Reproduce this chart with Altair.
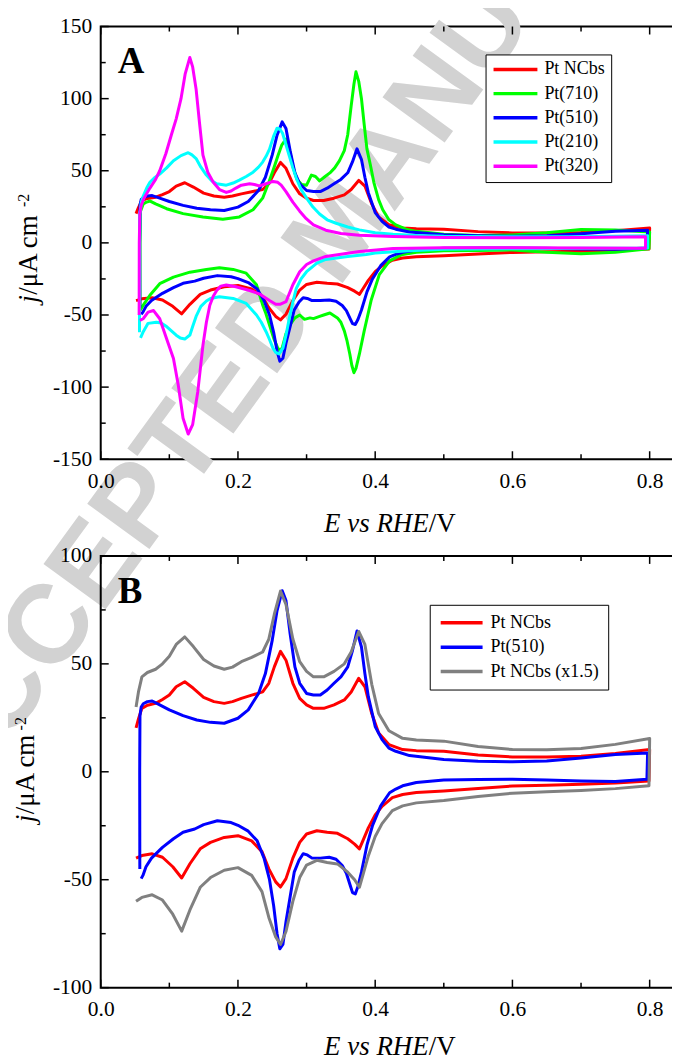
import altair as alt
import pandas as pd

# ---------------- data: E (V vs RHE), j (uA cm^-2) ----------------
# Pt NCbs (red) - anodic (up) and cathodic (down) branches
NCBS_E_UP = [0.0515, 0.055, 0.060, 0.068, 0.080, 0.090, 0.100, 0.110, 0.1225, 0.135, 0.150, 0.165, 0.180,
             0.192, 0.205, 0.220, 0.236, 0.245, 0.253, 0.262, 0.270, 0.280, 0.290, 0.300, 0.310, 0.325,
             0.340, 0.355, 0.365, 0.376, 0.385, 0.395, 0.405, 0.420, 0.440, 0.460, 0.500, 0.550, 0.600,
             0.650, 0.700, 0.750, 0.800]
NCBS_J_UP = [20.3, 24.5, 29.4, 30.8, 31.7, 33.5, 35.6, 39.4, 41.7, 38.7, 34.5, 32.5, 31.7, 32.5, 34.0,
             35.5, 37.0, 41.0, 48.6, 55.8, 51.7, 41.0, 34.0, 31.0, 29.4, 29.4, 31.0, 33.3, 37.0, 43.3,
             39.4, 27.0, 18.0, 12.6, 10.3, 9.8, 9.5, 7.8, 6.9, 6.8, 7.2, 8.5, 10.3]
NCBS_E_DN = [0.799, 0.750, 0.700, 0.650, 0.600, 0.550, 0.500, 0.460, 0.440, 0.425, 0.410, 0.400, 0.390,
             0.382, 0.377, 0.370, 0.360, 0.345, 0.330, 0.315, 0.300, 0.290, 0.280, 0.270, 0.262, 0.255,
             0.245, 0.235, 0.220, 0.200, 0.180, 0.160, 0.145, 0.130, 0.118, 0.105, 0.090, 0.075, 0.060,
             0.0515]
NCBS_J_DN = [-4.3, -5.2, -5.8, -6.2, -6.6, -7.7, -8.9, -9.6, -10.5, -12.0, -16.0, -20.0, -26.0, -32.0,
             -35.7, -33.5, -31.0, -28.5, -28.0, -27.3, -28.8, -32.7, -40.0, -49.5, -53.4, -51.0, -45.0,
             -37.0, -32.0, -29.6, -30.4, -32.7, -35.7, -42.6, -49.2, -44.0, -39.6, -38.0, -38.8, -40.0]

# Pt NCbs (x1.5) (grey)
X15_J_UP = [30.0, 37.0, 44.0, 46.0, 47.5, 50.0, 53.5, 59.0, 62.5, 58.0, 52.0, 49.0, 47.5, 48.5, 51.0,
            53.0, 55.5, 61.5, 73.0, 83.7, 77.5, 61.5, 51.0, 46.5, 44.0, 44.0, 46.5, 50.0, 55.5, 65.0,
            59.0, 40.5, 27.0, 19.0, 15.5, 14.7, 14.2, 11.7, 10.3, 10.2, 10.8, 12.7, 15.4]
X15_J_DN = [-6.5, -7.8, -8.7, -9.3, -9.9, -11.5, -13.3, -14.4, -15.8, -18.0, -24.0, -30.0, -39.0, -48.0,
            -53.5, -50.0, -46.5, -42.7, -42.0, -41.0, -43.2, -49.0, -60.0, -74.0, -80.0, -76.5, -67.5,
            -55.5, -48.0, -44.4, -45.6, -49.0, -53.5, -64.0, -73.8, -66.0, -59.4, -57.0, -58.2, -60.0]

# Pt(510) (blue)
P510_E_UP = [0.0570, 0.0568, 0.0572, 0.0590, 0.062, 0.068, 0.075, 0.086, 0.100, 0.120, 0.140, 0.160,
             0.180, 0.200, 0.215, 0.230, 0.240, 0.250, 0.257, 0.2645, 0.270, 0.276, 0.283, 0.290, 0.300,
             0.310, 0.320, 0.330, 0.340, 0.350, 0.360, 0.367, 0.3735, 0.380, 0.385, 0.390, 0.400, 0.410,
             0.420, 0.430, 0.450, 0.500, 0.550, 0.600, 0.650, 0.700, 0.750, 0.797]
P510_J_UP = [-45, 0, 26, 30, 31.5, 32.5, 32.8, 31, 28.7, 26, 24, 22.9, 22.5, 24.8, 28.7, 36.3, 45.5, 61,
             74.7, 83.9, 79.3, 64, 48.6, 41, 36.3, 35.6, 35.6, 37.9, 41, 44, 48.6, 56.3, 65.2, 57.8,
             45.5, 34.8, 21, 14.9, 11, 9.5, 7.5, 5.7, 4.9, 4.6, 5.0, 6.4, 8.0, 8.7]
P510_E_DN = [0.796, 0.750, 0.700, 0.650, 0.600, 0.550, 0.500, 0.460, 0.440, 0.430, 0.421, 0.408, 0.396,
             0.388, 0.380, 0.375, 0.371, 0.367, 0.364, 0.358, 0.352, 0.343, 0.333, 0.320, 0.308, 0.301,
             0.295, 0.289, 0.282, 0.276, 0.270, 0.2655, 0.261, 0.257, 0.252, 0.246, 0.238, 0.228, 0.215,
             0.200, 0.190, 0.170, 0.150, 0.137, 0.120, 0.106, 0.090, 0.074, 0.066, 0.0615, 0.0590]
P510_J_DN = [-3.5, -4.5, -4.3, -3.8, -3.5, -3.6, -3.8, -5.0, -6.5, -8.0, -9.7, -15.8, -25.0, -34.0, -46.5,
             -53.0, -56.6, -56.0, -53.0, -47.0, -43.4, -40.5, -39.6, -40.0, -40.0, -38.5, -38.0, -41.0,
             -46.5, -58.0, -69.5, -80.0, -82.0, -75.0, -62.0, -50.0, -40.0, -32.0, -27.5, -24.8, -23.5,
             -22.7, -24.5, -26.5, -28.0, -31.0, -35.0, -40.0, -44.0, -48.0, -49.5]

# Pt(710) (green)
P710_E_UP = [0.0572, 0.0572, 0.0580, 0.062, 0.067, 0.072, 0.080, 0.096, 0.120, 0.149, 0.178, 0.202, 0.222,
             0.236, 0.245, 0.251, 0.258, 0.264, 0.270, 0.275, 0.280, 0.286, 0.293, 0.300, 0.307, 0.313,
             0.319, 0.327, 0.334, 0.341, 0.348, 0.355, 0.360, 0.365, 0.369, 0.372, 0.376, 0.380, 0.384,
             0.388, 0.393, 0.398, 0.405, 0.411, 0.420, 0.430, 0.445, 0.460, 0.500, 0.550, 0.600, 0.650,
             0.700, 0.750, 0.800]
P710_J_UP = [-44, 0, 22, 27, 28.3, 29, 27, 23.7, 20.3, 18, 16.4, 18, 23, 31, 42, 50, 60, 68, 72, 65, 53,
             44, 40.5, 40, 47, 46, 43, 46, 48.5, 52, 57, 64, 75, 95, 110, 118.6, 112, 100, 82, 65, 54,
             42, 30, 23, 16, 12.5, 9.5, 8, 6, 5.2, 5.5, 7, 9.3, 9, 7.5]
P710_E_DN = [0.799, 0.750, 0.700, 0.650, 0.600, 0.550, 0.500, 0.460, 0.440, 0.435, 0.421, 0.406, 0.394,
             0.384, 0.377, 0.372, 0.369, 0.366, 0.363, 0.359, 0.355, 0.350, 0.345, 0.334, 0.325, 0.319,
             0.310, 0.305, 0.297, 0.290, 0.283, 0.277, 0.270, 0.265, 0.2625, 0.258, 0.252, 0.246, 0.240,
             0.236, 0.227, 0.212, 0.193, 0.173, 0.154, 0.130, 0.106, 0.086, 0.0717, 0.062, 0.0575]
P710_J_DN = [-4, -6.5, -7.5, -6.5, -5, -5.2, -5.5, -6.5, -8, -9, -12.5, -22, -40, -61, -77, -87, -90, -85,
             -77, -68, -61, -55, -52, -48.6, -50, -51, -52.5, -52, -53, -50, -52, -56, -63, -72, -75, -73,
             -66, -57, -48, -43, -29, -21, -18.4, -17.3, -18.4, -20.3, -23.7, -28.3, -36.3, -43.2, -46.7]

# Pt(210) (cyan)
P210_E_UP = [0.0565, 0.0565, 0.0570, 0.059, 0.062, 0.067, 0.0717, 0.078, 0.086, 0.096, 0.106, 0.117,
             0.1275, 0.133, 0.139, 0.146, 0.154, 0.162, 0.169, 0.183, 0.193, 0.202, 0.212, 0.222, 0.230,
             0.236, 0.241, 0.246, 0.252, 0.257, 0.261, 0.265, 0.270, 0.275, 0.280, 0.285, 0.292, 0.300,
             0.309, 0.319, 0.330, 0.343, 0.360, 0.377, 0.400, 0.426, 0.460, 0.500, 0.600, 0.700, 0.797]
P210_J_UP = [-62, 0, 20, 28, 32.5, 38, 42, 45, 47.7, 52, 57, 60.5, 62.5, 61, 58.5, 52.5, 47, 43, 41, 40,
             41.5, 43.5, 46, 49, 52.5, 56, 60, 65, 74, 79.5, 79, 76, 68, 60, 52, 45, 37, 31, 25, 20, 16,
             13.6, 11, 9, 7, 6, 5.2, 4.6, 4.2, 4.3, 5]
P210_E_DN = [0.797, 0.700, 0.600, 0.500, 0.450, 0.400, 0.387, 0.360, 0.328, 0.315, 0.300, 0.292, 0.285,
             0.280, 0.275, 0.270, 0.2655, 0.260, 0.255, 0.251, 0.246, 0.241, 0.234, 0.227, 0.212, 0.193,
             0.173, 0.160, 0.154, 0.146, 0.139, 0.134, 0.130, 0.1225, 0.116, 0.110, 0.096, 0.088, 0.081,
             0.069, 0.062, 0.058]
P210_J_DN = [-3.5, -3.8, -4, -4.5, -5.5, -7, -8, -9.5, -11.5, -14, -20, -25, -31.6, -41, -52, -64, -73,
             -77, -76, -73, -67, -61.6, -55, -50, -42, -38.5, -37.3, -38.5, -40.3, -44, -51, -58, -63.9,
             -66.7, -66, -64, -58, -55.5, -55, -55.8, -61.6, -65.8]

# Pt(320) (magenta)
P320_E_UP = [0.056, 0.0562, 0.057, 0.059, 0.063, 0.0717, 0.080, 0.086, 0.095, 0.103, 0.110, 0.117, 0.123,
             0.1298, 0.134, 0.139, 0.144, 0.149, 0.156, 0.164, 0.173, 0.183, 0.190, 0.197, 0.205, 0.217,
             0.224, 0.231, 0.241, 0.251, 0.258, 0.263, 0.270, 0.280, 0.290, 0.2995, 0.310, 0.328, 0.350,
             0.377, 0.426, 0.500, 0.600, 0.700, 0.794]
P320_J_UP = [-50, 0, 20, 26, 31, 38, 44, 50, 62, 75, 86, 100, 117, 128.5, 122, 106.6, 83, 60.8, 49, 42,
             37, 35, 36, 38, 40, 41, 40.5, 39.5, 41, 42.6, 42, 40, 35.5, 28.3, 22, 16.8, 12.5, 8.8, 6.5,
             5.3, 4.5, 3.8, 3.6, 3.8, 4.3]
P320_E_DN = [0.794, 0.700, 0.600, 0.500, 0.426, 0.377, 0.328, 0.310, 0.300, 0.290, 0.280, 0.270, 0.262,
             0.255, 0.246, 0.231, 0.217, 0.197, 0.183, 0.175, 0.169, 0.164, 0.159, 0.154, 0.149, 0.1415,
             0.134, 0.1275, 0.120, 0.113, 0.106, 0.096, 0.086, 0.077, 0.069, 0.062, 0.057]
P320_J_DN = [-3.8, -3.5, -3.3, -3.4, -3.9, -6, -9.4, -12.5, -15, -20, -29, -40.8, -42.5, -42.6, -40,
             -35.3, -33, -30.4, -29.2, -30, -33, -37, -43.2, -55, -70.9, -103, -126, -132.5, -121.6,
             -98.6, -80.2, -66.4, -52.6, -46.9, -48, -52.6, -53.7]

NAMES_A = ["Pt NCbs", "Pt(710)", "Pt(510)", "Pt(210)", "Pt(320)"]
COLORS_A = ["#ff0000", "#00ff00", "#0000ff", "#00ffff", "#ff00ff"]
NAMES_B = ["Pt NCbs", "Pt(510)", "Pt NCbs (x1.5)"]
COLORS_B = ["#ff0000", "#0000ff", "#808080"]

X_MAJOR = [0.0, 0.2, 0.4, 0.6, 0.8]
X_MINOR = [0.1, 0.3, 0.5, 0.7]
YA_MAJOR = [-150, -100, -50, 0, 50, 100, 150]
YA_MINOR = [-125, -75, -25, 25, 75, 125]
YB_MAJOR = [-100, -50, 0, 50, 100]
YB_MINOR = [-75, -25, 25, 75]

WATERMARK = "ACCEPTED MANUSCRIPT"

# ---------------- build tables ----------------
def loop(name, e_up, j_up, e_dn, j_dn):
    e = list(e_up) + list(e_dn)
    j = list(j_up) + list(j_dn)
    return pd.DataFrame({"E": e, "j": j, "series": name, "idx": list(range(len(e)))})

dfA = pd.concat([
    loop("Pt NCbs", NCBS_E_UP, NCBS_J_UP, NCBS_E_DN, NCBS_J_DN),
    loop("Pt(710)", P710_E_UP, P710_J_UP, P710_E_DN, P710_J_DN),
    loop("Pt(510)", P510_E_UP, P510_J_UP, P510_E_DN, P510_J_DN),
    loop("Pt(210)", P210_E_UP, P210_J_UP, P210_E_DN, P210_J_DN),
    loop("Pt(320)", P320_E_UP, P320_J_UP, P320_E_DN, P320_J_DN),
], ignore_index=True)

dfB = pd.concat([
    loop("Pt NCbs", NCBS_E_UP, NCBS_J_UP, NCBS_E_DN, NCBS_J_DN),
    loop("Pt(510)", P510_E_UP, P510_J_UP, P510_E_DN, P510_J_DN),
    loop("Pt NCbs (x1.5)", NCBS_E_UP, X15_J_UP, NCBS_E_DN, X15_J_DN),
], ignore_index=True)

W = 585
HA, HB, GAP = 434, 433, 97
SERIF = "Liberation Serif"
SP = 900  # distance of the invisible layout spacers
x_scale = alt.Scale(domain=[0, 0.85], nice=False, zero=False)
X_AXIS = alt.Axis(values=X_MAJOR, labelExpr="format(datum.value, '.1f')", title=None,
                  ticks=False, tickSize=0, domain=False, grid=False, labelFont=SERIF,
                  labelFontSize=21.5, labelColor="black", labelPadding=11,
                  labelFlush=False, labelOverlap=False, zindex=1)


def spacer(x, y):
    return alt.Chart(pd.DataFrame({"t": [0]})).mark_rule(
        color="white", strokeWidth=1, opacity=0).encode(
        x=alt.value(x), x2=alt.value(x), y=alt.value(y), y2=alt.value(y + 0.1))


def panel(df, names, colors, y_dom, y_major, y_minor, H, letter, legend, ytitle_pos, xtitle_y,
          top_panel):
    y_scale = alt.Scale(domain=y_dom, nice=False, zero=False)
    y_axis = alt.Axis(values=y_major, labelExpr="'' + datum.value", title=None,
                      ticks=False, tickSize=0, domain=False, grid=False, labelFont=SERIF,
                      labelFontSize=21.5, labelColor="black", labelPadding=9,
                      labelOverlap=False, zindex=1)
    layers = []
    if top_panel:
        # diagonal "ACCEPTED MANUSCRIPT" watermark of the source page
        layers.append(
            alt.Chart(pd.DataFrame({"t": [WATERMARK]})).mark_text(
                font="Liberation Sans", fontSize=112, fontWeight="bold", color="#d2d2d2",
                angle=306, align="center", baseline="middle"
            ).encode(x=alt.value(240), y=alt.value(203), text="t:N")
        )
    lines = alt.Chart(df).mark_line(strokeWidth=3, strokeJoin="round").encode(
        x=alt.X("E:Q", scale=x_scale, axis=X_AXIS),
        y=alt.Y("j:Q", scale=y_scale, axis=y_axis),
        color=alt.Color("series:N", scale=alt.Scale(domain=names, range=colors), legend=legend),
        order="idx:Q",
    )
    layers.append(lines)

    def xt(vals, length, bottom):
        return alt.Chart(pd.DataFrame({"E": vals})).mark_rule(color="black", strokeWidth=1.5).encode(
            x=alt.X("E:Q", scale=x_scale, axis=X_AXIS),
            y=alt.value(H if bottom else 0),
            y2=alt.value(H - length if bottom else length),
        )

    def yt(vals, length, left):
        return alt.Chart(pd.DataFrame({"j": vals})).mark_rule(color="black", strokeWidth=1.5).encode(
            y=alt.Y("j:Q", scale=y_scale, axis=y_axis),
            x=alt.value(0 if left else W),
            x2=alt.value(length if left else W - length),
        )

    for b in (True, False):
        layers.append(xt(X_MAJOR, 8, b))
        layers.append(xt(X_MINOR, 5, b))
        layers.append(yt(y_major, 8, b))
        layers.append(yt(y_minor, 5, b))

    # panel letter
    layers.append(alt.Chart(pd.DataFrame({"t": [letter]})).mark_text(
        font=SERIF, fontSize=37, fontWeight="bold", align="left", baseline="alphabetic", color="black"
    ).encode(x=alt.value(17), y=alt.value(47), text="t:N"))

    # y title: j/uA cm^-2
    bx, jy, ry, sy = ytitle_pos
    layers.append(alt.Chart(pd.DataFrame({"t": ["j"]})).mark_text(
        font=SERIF, fontSize=27, fontStyle="italic", angle=270, align="left", baseline="alphabetic",
        color="black").encode(x=alt.value(bx), y=alt.value(jy), text="t:N"))
    layers.append(alt.Chart(pd.DataFrame({"t": ["/\u03bcA cm"]})).mark_text(
        font=SERIF, fontSize=27, angle=270, align="left", baseline="alphabetic",
        color="black").encode(x=alt.value(bx), y=alt.value(ry), text="t:N"))
    layers.append(alt.Chart(pd.DataFrame({"t": ["-2"]})).mark_text(
        font=SERIF, fontSize=16, angle=270, align="left", baseline="alphabetic",
        color="black").encode(x=alt.value(bx - 8), y=alt.value(sy), text="t:N"))

    # x title: E vs RHE/V
    layers.append(alt.Chart(pd.DataFrame({"t": ["E vs RHE"]})).mark_text(
        font=SERIF, fontSize=27, fontStyle="italic", align="right", baseline="alphabetic",
        color="black").encode(x=alt.value(329), y=alt.value(xtitle_y), text="t:N"))
    layers.append(alt.Chart(pd.DataFrame({"t": ["/V"]})).mark_text(
        font=SERIF, fontSize=27, align="left", baseline="alphabetic",
        color="black").encode(x=alt.value(329), y=alt.value(xtitle_y), text="t:N"))

    # invisible spacers that pin the outer bounds (the page is a crop of a larger figure)
    if top_panel:
        layers.append(spacer(-SP - 0.5, -SP - 0.5))
        layers.append(spacer(W + SP + 0.5, -SP - 0.5))
    else:
        layers.append(spacer(-SP - 0.5, H + SP + 0.4))
        layers.append(spacer(W + SP + 0.5, H + SP + 0.4))

    return alt.layer(*layers).properties(width=W, height=H)


legA = alt.Legend(title=None, orient="none", legendX=386, legendY=28, direction="vertical",
                  symbolType="stroke", symbolSize=1936, symbolStrokeWidth=3.5, clipHeight=18,
                  labelFont=SERIF, labelFontSize=18, labelColor="black", labelOffset=5,
                  rowPadding=6.3, padding=6, strokeColor="black", fillColor="white", labelLimit=400)
legB = alt.Legend(title=None, orient="none", legendX=330, legendY=49, direction="vertical",
                  symbolType="stroke", symbolSize=1764, symbolStrokeWidth=3.5, clipHeight=18,
                  labelFont=SERIF, labelFontSize=18, labelColor="black", labelOffset=6,
                  rowPadding=6.5, padding=9, strokeColor="black", fillColor="white", labelLimit=400)

pA = panel(dfA, NAMES_A, COLORS_A, [-150, 150], YA_MAJOR, YA_MINOR, HA, "A", legA,
           (-64, 277, 269, 181), 507, True)
pB = panel(dfB, NAMES_B, COLORS_B, [-100, 100], YB_MAJOR, YB_MINOR, HB, "B", legB,
           (-67, 267, 259, 175), 501, False)

EXT = SP + 1  # outer extent beyond the layout on each side
TOTAL_H = HA + GAP + HB
pad_left = 92 - EXT
pad_top = 16 - EXT
pad_right = 664 - (pad_left + EXT + W + EXT)
pad_bottom = 1052 - (pad_top + EXT + TOTAL_H + EXT)

chart = alt.vconcat(pA, pB, spacing=GAP, bounds="flush").resolve_scale(
    color="independent", x="independent", y="independent"
).configure_view(stroke="black", strokeWidth=2).properties(
    padding={"left": pad_left, "top": pad_top, "right": pad_right, "bottom": pad_bottom},
    background="white",
)

chart.save("out.html", embed_options={"renderer": "svg", "actions": False})
